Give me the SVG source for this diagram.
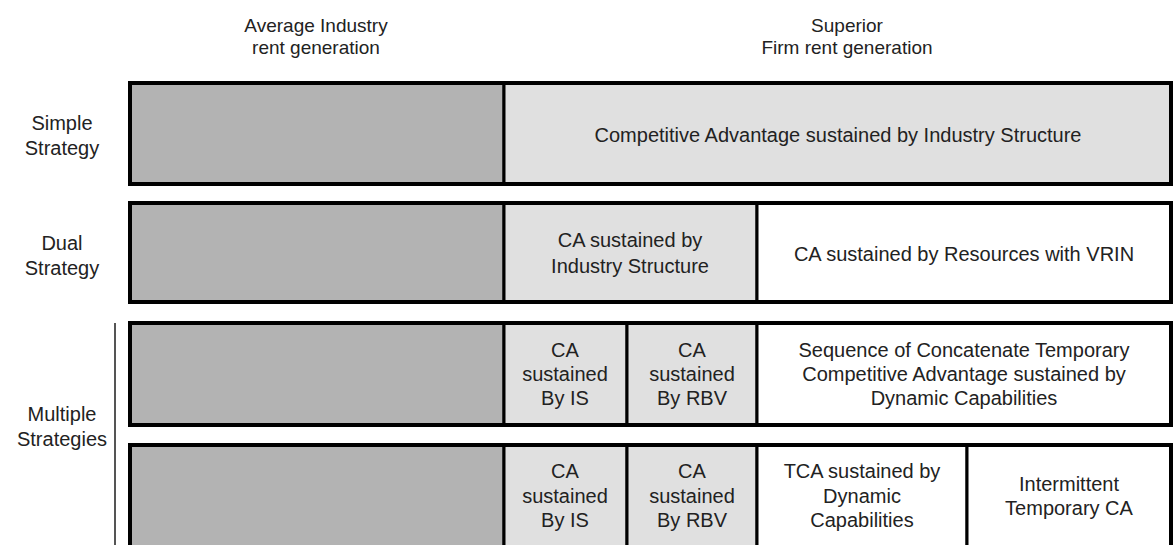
<svg xmlns="http://www.w3.org/2000/svg" width="1174" height="545" viewBox="0 0 1174 545">
  <style>
    text { font-family: "Liberation Sans", Arial, sans-serif; font-size: 20px; fill: #222; text-anchor: middle; }
    text.hd { font-size: 19px; }
    .avg { fill: #b3b3b3; stroke: #000; stroke-width: 3; }
    .is { fill: #e0e0e0; stroke: #000; stroke-width: 3; }
    .dc { fill: #ffffff; stroke: #000; stroke-width: 3; }
    .frame { fill: none; stroke: #000; stroke-width: 4; }
  </style>

  <!-- column headers -->
  <g id="headers">
    <text class="hd" x="316" y="32">Average Industry</text>
    <text class="hd" x="316" y="54">rent generation</text>
    <text class="hd" x="847" y="32">Superior</text>
    <text class="hd" x="847" y="54">Firm rent generation</text>
  </g>

  <!-- row labels -->
  <g id="labels">
    <text x="62" y="130">Simple</text>
    <text x="62" y="155">Strategy</text>
    <text x="62" y="250">Dual</text>
    <text x="62" y="275">Strategy</text>
    <text x="62" y="421">Multiple</text>
    <text x="62" y="446">Strategies</text>
  </g>

  <g id="connectors">
    <line x1="115" y1="323" x2="115" y2="545" stroke="#555" stroke-width="2"/>
  </g>

  <!-- simple strategy -->
  <g id="row-simple">
    <rect class="avg" x="130" y="83" width="374" height="101"/>
    <rect class="is" x="504" y="83" width="667" height="101"/>
    <rect class="frame" x="130" y="83" width="1041" height="101"/>
    <text x="838" y="142">Competitive Advantage sustained by Industry Structure</text>
  </g>

  <!-- dual strategy -->
  <g id="row-dual">
    <rect class="avg" x="130" y="203" width="374" height="99"/>
    <rect class="is" x="504" y="203" width="253" height="99"/>
    <rect class="dc" x="757" y="203" width="414" height="99"/>
    <rect class="frame" x="130" y="203" width="1041" height="99"/>
    <text x="630" y="247">CA sustained by</text>
    <text x="630" y="273">Industry Structure</text>
    <text x="964" y="261">CA sustained by Resources with VRIN</text>
  </g>

  <!-- multiple strategies, sequence -->
  <g id="row-multi-a">
    <rect class="avg" x="130" y="323" width="374" height="102"/>
    <rect class="is" x="504" y="323" width="123" height="102"/>
    <rect class="is" x="627" y="323" width="130" height="102"/>
    <rect class="dc" x="757" y="323" width="414" height="102"/>
    <rect class="frame" x="130" y="323" width="1041" height="102"/>
    <text x="565" y="357">CA</text>
    <text x="565" y="381">sustained</text>
    <text x="565" y="405">By IS</text>
    <text x="692" y="357">CA</text>
    <text x="692" y="381">sustained</text>
    <text x="692" y="405">By RBV</text>
    <text x="964" y="357">Sequence of Concatenate Temporary</text>
    <text x="964" y="381">Competitive Advantage sustained by</text>
    <text x="964" y="405">Dynamic Capabilities</text>
  </g>

  <!-- multiple strategies, intermittent -->
  <g id="row-multi-b">
    <rect class="avg" x="130" y="445" width="374" height="110"/>
    <rect class="is" x="504" y="445" width="123" height="110"/>
    <rect class="is" x="627" y="445" width="130" height="110"/>
    <rect class="dc" x="757" y="445" width="210" height="110"/>
    <rect class="dc" x="967" y="445" width="204" height="110"/>
    <rect class="frame" x="130" y="445" width="1041" height="110"/>
    <text x="565" y="478">CA</text>
    <text x="565" y="503">sustained</text>
    <text x="565" y="527">By IS</text>
    <text x="692" y="478">CA</text>
    <text x="692" y="503">sustained</text>
    <text x="692" y="527">By RBV</text>
    <text x="862" y="478">TCA sustained by</text>
    <text x="862" y="503">Dynamic</text>
    <text x="862" y="527">Capabilities</text>
    <text x="1069" y="491">Intermittent</text>
    <text x="1069" y="515">Temporary CA</text>
  </g>
</svg>
